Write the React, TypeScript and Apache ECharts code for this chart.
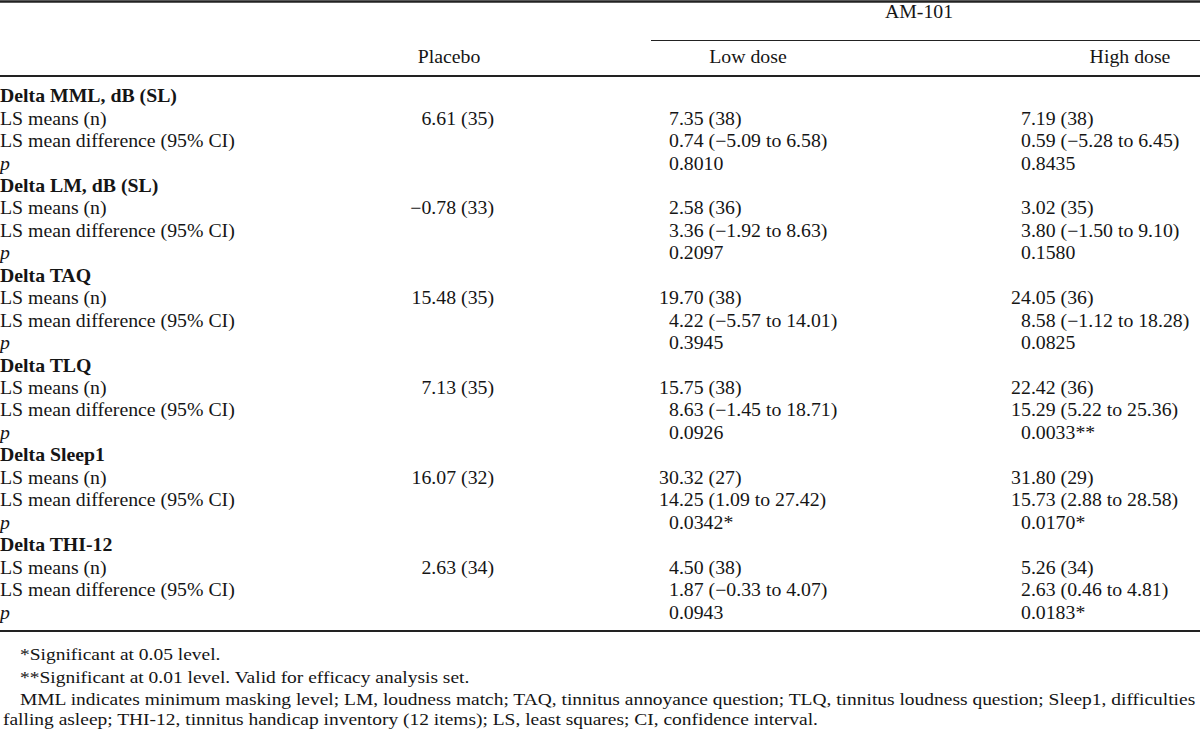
import React, { useEffect, useRef } from "react";
import * as echarts from "echarts";

const measures = ["Delta MML, dB (SL)", "Delta LM, dB (SL)", "Delta TAQ", "Delta TLQ", "Delta Sleep1", "Delta THI-12"];
const rowLabels = ["LS means (n)", "LS mean difference (95% CI)", "p"];
const columnHeaders = ["Placebo", "Low dose", "High dose"];
const groupHeader = "AM-101";
const placeboMeans = ["6.61 (35)", "\u22120.78 (33)", "15.48 (35)", "7.13 (35)", "16.07 (32)", "2.63 (34)"];
const lowMeans = ["7.35 (38)", "2.58 (36)", "19.70 (38)", "15.75 (38)", "30.32 (27)", "4.50 (38)"];
const lowDiff = ["0.74 (\u22125.09 to 6.58)", "3.36 (\u22121.92 to 8.63)", "4.22 (\u22125.57 to 14.01)", "8.63 (\u22121.45 to 18.71)", "14.25 (1.09 to 27.42)", "1.87 (\u22120.33 to 4.07)"];
const lowP = ["0.8010", "0.2097", "0.3945", "0.0926", "0.0342*", "0.0943"];
const highMeans = ["7.19 (38)", "3.02 (35)", "24.05 (36)", "22.42 (36)", "31.80 (29)", "5.26 (34)"];
const highDiff = ["0.59 (\u22125.28 to 6.45)", "3.80 (\u22121.50 to 9.10)", "8.58 (\u22121.12 to 18.28)", "15.29 (5.22 to 25.36)", "15.73 (2.88 to 28.58)", "2.63 (0.46 to 4.81)"];
const highP = ["0.8435", "0.1580", "0.0825", "0.0033**", "0.0170*", "0.0183*"];
const footnotes = [
  "*Significant at 0.05 level.",
  "**Significant at 0.01 level. Valid for efficacy analysis set.",
  "MML indicates minimum masking level; LM, loudness match; TAQ, tinnitus annoyance question; TLQ, tinnitus loudness question; Sleep1, difficulties",
  "falling asleep; THI-12, tinnitus handicap inventory (12 items); LS, least squares; CI, confidence interval.",
];

const FONT = '"Liberation Serif", "Times New Roman", serif';
const COLOR = "#151515";

export default function App() {
  const ref = useRef<HTMLDivElement>(null);
  useEffect(() => {
    document.body.style.margin = "0";
    const chart = echarts.init(ref.current!, null, { renderer: "svg" });
    const ctx = document.createElement("canvas").getContext("2d")!;
    const tw = (s: string, size: number, weight = "normal", style = "normal") => {
      ctx.font = `${style} ${weight} ${size}px ${FONT}`;
      return ctx.measureText(s).width;
    };
    const FS = 18;
    const SX = 1.1;
    const FN = 17;
    const fnScale = 1177 / tw(footnotes[2], FN);

    const els: any[] = [];
    const txt = (s: string, x: number, y: number, align: string, opts: any = {}) => {
      els.push({
        type: "text",
        x,
        y,
        scaleX: opts.sx ?? SX,
        style: {
          text: s,
          fill: COLOR,
          font: `${opts.style || "normal"} ${opts.weight || "normal"} ${opts.size || FS}px ${FONT}`,
          textAlign: align,
          textVerticalAlign: "middle",
        },
      });
    };
    const hline = (x1: number, x2: number, y: number, w: number) => {
      els.push({ type: "line", shape: { x1, y1: y, x2, y2: y }, style: { stroke: "#222", lineWidth: w } });
    };

    hline(0, 1200, 1.5, 2.5);
    hline(651, 1200, 40.5, 1.2);
    hline(0, 1200, 76, 2);
    hline(0, 1200, 631, 2);

    txt(groupHeader, 919, 12, "center");
    txt(columnHeaders[0], 449, 57, "center");
    txt(columnHeaders[1], 748, 57, "center");
    txt(columnHeaders[2], 1130, 57, "center");

    const y0 = 96;
    const dy = 22.45;
    const decAlign = (s: string, decX: number, y: number) => {
      const intPart = s.split(".")[0];
      txt(s, decX - tw(intPart, FS) * SX, y, "left");
    };
    const lowDec = 669 + tw("0", FS) * SX;
    const highDec = 1021 + tw("0", FS) * SX;

    measures.forEach((m, g) => {
      const base = y0 + dy * g * 4;
      txt(m, 0, base, "left", { weight: "bold" });
      rowLabels.forEach((r, k) => {
        txt(r, 0, base + dy * (k + 1), "left", k === 2 ? { style: "italic" } : {});
      });
      txt(placeboMeans[g], 494, base + dy, "right");
      decAlign(lowMeans[g], lowDec, base + dy);
      decAlign(lowDiff[g], lowDec, base + dy * 2);
      decAlign(lowP[g], lowDec, base + dy * 3);
      decAlign(highMeans[g], highDec, base + dy);
      decAlign(highDiff[g], highDec, base + dy * 2);
      decAlign(highP[g], highDec, base + dy * 3);
    });

    const fy = [654, 677, 699, 719];
    const fx = [20, 20, 20, 3];
    footnotes.forEach((f, i) => txt(f, fx[i], fy[i], "left", { size: FN, sx: fnScale }));

    chart.setOption({ animation: false, graphic: { elements: els } });
    return () => chart.dispose();
  }, []);
  return <div ref={ref} style={{ width: 1200, height: 730, background: "#fff" }} />;
}
